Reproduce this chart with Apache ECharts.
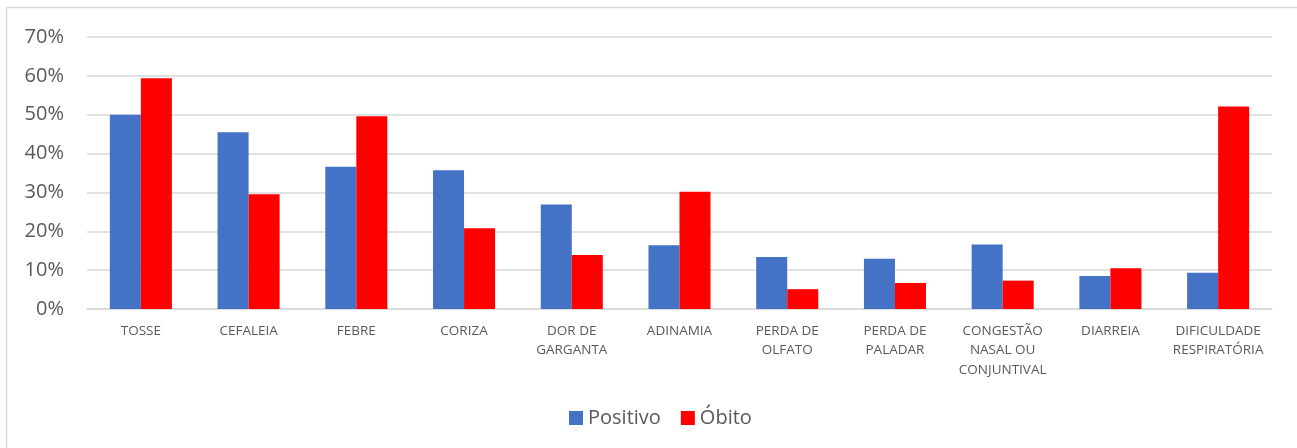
<!DOCTYPE html>
<html>
<head>
<meta charset="utf-8">
<script src="https://cdn.jsdelivr.net/npm/echarts@6/dist/echarts.min.js"></script>
<style>
html,body{margin:0;padding:0;background:#fff;}
#chart{width:1297px;height:448px;}
</style>
</head>
<body>
<div id="chart"></div>
<script>
const categories = ['TOSSE','CEFALEIA','FEBRE','CORIZA','DOR DE\nGARGANTA','ADINAMIA','PERDA DE\nOLFATO','PERDA DE\nPALADAR','CONGESTÃO\nNASAL OU\nCONJUNTIVAL','DIARREIA','DIFICULDADE\nRESPIRATÓRIA'];
const positivo = [50.0, 45.5, 36.6, 35.7, 26.9, 16.4, 13.4, 12.9, 16.6, 8.5, 9.3];
const obito    = [59.4, 29.5, 49.6, 20.8, 13.9, 30.2, 5.1, 6.7, 7.3, 10.5, 52.1];
const yTicks = [0, 10, 20, 30, 40, 50, 60, 70];

const font = '"Open Sans", "Noto Sans", sans-serif';
const chart = echarts.init(document.getElementById('chart'));
chart.setOption({
  animation: false,
  backgroundColor: '#ffffff',
  textStyle: { fontFamily: font },
  graphic: [
    { type: 'line', shape: { x1: 6.5, y1: 7.5, x2: 1297, y2: 7.5 }, style: { stroke: '#d9d9d9', lineWidth: 1.5 } },
    { type: 'line', shape: { x1: 6.5, y1: 7.5, x2: 6.5, y2: 448 }, style: { stroke: '#d9d9d9', lineWidth: 1.5 } }
  ],
  grid: { left: 87, right: 25, top: 37, bottom: 139, containLabel: false },
  legend: {
    data: ['Positivo', 'Óbito'],
    top: 403,
    left: 564,
    itemWidth: 14,
    itemHeight: 14,
    itemGap: 20,
    icon: 'rect',
    textStyle: { fontSize: 20, color: '#595959', fontFamily: font }
  },
  xAxis: {
    type: 'category',
    data: categories,
    axisTick: { show: false },
    axisLine: { lineStyle: { color: '#d9d9d9', width: 1.5 } },
    axisLabel: { interval: 0, color: '#595959', fontSize: 13.5, lineHeight: 19.5, margin: 12, fontFamily: font }
  },
  yAxis: {
    type: 'value',
    min: 0,
    max: yTicks[yTicks.length - 1],
    interval: 10,
    axisLine: { show: false },
    axisTick: { show: false },
    splitLine: { lineStyle: { color: '#d9d9d9', width: 1.5 } },
    axisLabel: { formatter: '{value}%', color: '#595959', fontSize: 20, margin: 23, fontFamily: font }
  },
  series: [
    { name: 'Positivo', type: 'bar', data: positivo, barWidth: '28.8%', barGap: '0%', itemStyle: { color: '#4472c4' } },
    { name: 'Óbito', type: 'bar', data: obito, barWidth: '28.8%', barGap: '0%', itemStyle: { color: '#ff0000' } }
  ]
});
</script>
</body>
</html>
